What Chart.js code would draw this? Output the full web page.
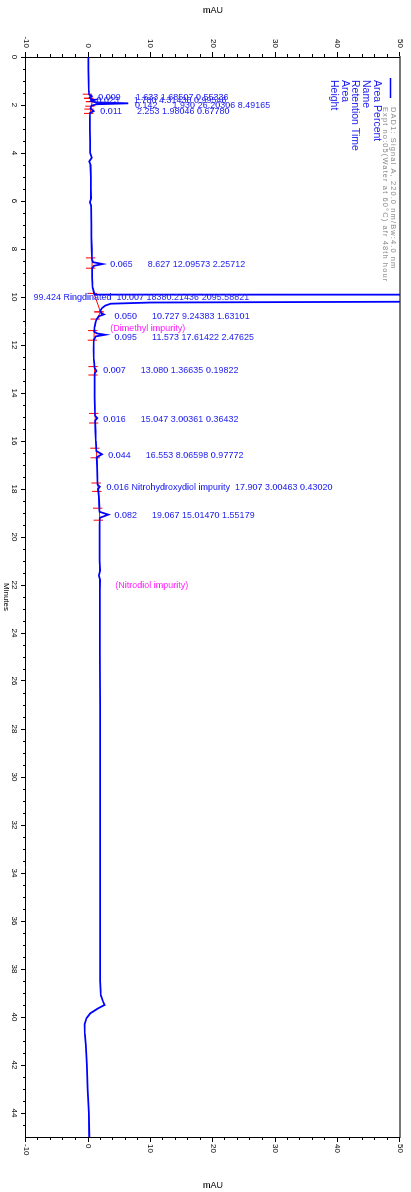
<!DOCTYPE html>
<html><head><meta charset="utf-8">
<script src="https://cdn.jsdelivr.net/npm/chart.js@4/dist/chart.umd.min.js"></script>
<style>
html,body{margin:0;padding:0;background:#fff;overflow:hidden;width:411px;height:1192px}
#wrap{position:absolute;left:0;top:0;width:1192px;height:411px;transform-origin:0 0;transform:translateX(411px) rotate(90deg);}
canvas{display:block}
</style></head>
<body><div id="wrap"><canvas id="c" width="1192" height="411"></canvas></div>
<script>
// ---- data ----
const times = [0,0.5,1.0,1.4,1.55,1.633,1.7,1.75,1.78,1.84,1.89,1.93,1.97,2.03,2.15,2.253,2.33,2.6,3.0,3.5,4.0,4.2,4.35,4.5,5.0,5.5,5.9,6.05,6.2,7.0,7.5,8.0,8.45,8.55,8.627,8.7,8.8,9.2,9.6,9.9,10.007,10.19,10.23,10.28,10.36,10.46,10.58,10.68,10.727,10.80,10.92,11.05,11.25,11.45,11.52,11.573,11.64,11.78,12.2,12.6,12.95,13.08,13.2,13.6,14.2,14.6,14.95,15.047,15.15,15.6,16.0,16.42,16.553,16.68,17.1,17.5,17.82,17.907,18.0,18.3,18.7,18.95,19.067,19.2,19.5,20.0,21.0,21.4,21.6,21.8,22.2,23.0,25.0,27.0,29.0,31.0,33.0,35.0,37.0,38.5,39.1,39.35,39.5,39.65,39.85,40.05,40.3,40.7,41.2,42.0,43.0,44.0,45.0];
const signal = [0.00,0.02,0.05,0.08,0.12,0.55,0.25,0.45,1.1,0.5,1.2,6.4,1.3,0.5,0.35,0.85,0.3,0.25,0.25,0.3,0.3,0.55,0.15,0.35,0.4,0.4,0.45,0.25,0.45,0.5,0.5,0.55,0.6,0.75,2.3,0.9,0.6,0.6,0.7,1.0,2095.6,60,10,3.6,2.7,2.2,1.9,2.1,2.5,1.7,1.35,1.15,1.0,0.95,1.4,2.7,1.2,0.9,0.85,0.9,1.0,1.3,1.0,1.0,1.0,1.05,1.1,1.45,1.1,1.15,1.2,1.3,2.2,1.35,1.4,1.45,1.5,1.85,1.55,1.7,1.75,1.8,3.2,1.85,1.8,1.8,1.8,1.9,1.7,1.9,1.85,1.85,1.85,1.9,1.9,1.9,1.9,1.9,1.9,1.9,2.0,2.35,2.6,1.5,0.3,-0.3,-0.6,-0.55,-0.4,-0.25,-0.1,0.1,0.15];

// integration events (peak start / end, baseline values)
const peakStart = [1.55,1.72,1.86,2.17,8.37,9.85,10.62,11.40,12.90,14.85,16.30,17.75,18.80];
const peakEnd   = [1.72,1.86,2.05,2.35,8.80,10.62,10.92,11.80,13.25,15.25,16.70,18.10,19.30];
const baseStart = [0.10,0.30,0.60,0.35,0.60,0.90,1.95,0.95,1.00,1.10,1.30,1.50,1.75];
const baseEnd   = [0.30,0.60,0.50,0.30,0.60,1.95,1.35,0.90,1.00,1.10,1.35,1.60,1.85];

// peak table
const areaPercent = ['0.009','0.023','0.142','0.011','0.065','99.424','0.050','0.095','0.007','0.016','0.044','0.016','0.082'];
const peakNames   = ['','','','','','Ringdinated','','','','','','Nitrohydroxydiol impurity',''];
const retTimes    = ['1.633','1.780','1.930','2.253','8.627','10.007','10.727','11.573','13.080','15.047','16.553','17.907','19.067'];
const areas       = ['1.68507','4.31436','26.20306','1.98046','12.09573','18380.21436','9.24383','17.61422','1.36635','3.00361','8.06598','3.00463','15.01470'];
const heights     = ['0.55336','0.99546','8.49165','0.67780','2.25712','2095.58821','1.63101','2.47625','0.19822','0.36432','0.97772','0.43020','1.55179'];
const compoundNotes = ['(Dimethyl impurity)','(Nitrodiol impurity)'];

// axis ticks
const timeTicks = [0,2,4,6,8,10,12,14,16,18,20,22,24,26,28,30,32,34,36,38,40,42,44];
const mauTicks  = [-10,0,10,20,30,40,50];

// ---- placement of annotation text (layout, not data) ----
const labelAnchorT = [1.67,1.83,2.04,2.29,8.63,10.04,10.83,11.67,13.08,15.10,16.60,17.93,19.10];
const labelAnchorY = [1.6,1.3,7.5,1.9,3.5,-8.8,4.2,4.2,2.4,2.4,3.2,2.9,4.2];
const noteAnchorT = [11.33,22.04];
const noteAnchorY = [3.5,4.3];

const FONT = '"Liberation Sans", Arial, sans-serif';
Chart.defaults.font.family = FONT;

const tracePts = times.map((t,i)=>({x:t,y:signal[i]}));
const redPts = [];
peakStart.forEach((s,i)=>{
  const e = peakEnd[i], bs = baseStart[i], be = baseEnd[i];
  redPts.push({x:s,y:bs-1.0},{x:s,y:bs+0.5},{x:s,y:null});
  redPts.push({x:s,y:bs},{x:e,y:be},{x:e,y:null});
  redPts.push({x:e,y:be-1.0},{x:e,y:be+0.5},{x:e,y:null});
});

const overlay = {
  id:'overlay',
  afterDatasetsDraw(chart){
    const {ctx, scales:{x,y}} = chart;
    ctx.save();
    ctx.textAlign='left'; ctx.textBaseline='middle';
    ctx.font = '9px '+FONT;
    ctx.fillStyle = '#2121f0';
    retTimes.forEach((rt,i)=>{
      const txt = peakNames[i] ? `${areaPercent[i]} ${peakNames[i]}  ${rt} ${areas[i]} ${heights[i]}`
                               : `${areaPercent[i]}      ${rt} ${areas[i]} ${heights[i]}`;
      const px = x.getPixelForValue(labelAnchorT[i]);
      const py = y.getPixelForValue(labelAnchorY[i]);
      ctx.save(); ctx.translate(px,py); ctx.rotate(-Math.PI/2); ctx.fillText(txt,0,0); ctx.restore();
    });
    ctx.fillStyle = '#ff22ff';
    compoundNotes.forEach((n,i)=>{
      const px = x.getPixelForValue(noteAnchorT[i]);
      const py = y.getPixelForValue(noteAnchorY[i]);
      ctx.save(); ctx.translate(px,py); ctx.rotate(-Math.PI/2); ctx.fillText(n,0,0); ctx.restore();
    });
    ctx.restore();
  },
  afterDraw(chart){
    const {ctx, chartArea:a, scales:{x,y}} = chart;
    ctx.save();
    ctx.strokeStyle='#000'; ctx.lineWidth=1;
    ctx.beginPath();
    for(let t=0.5;t<45;t+=0.5){
      if(timeTicks.includes(t)) continue;
      const px=Math.round(x.getPixelForValue(t))+0.5;
      ctx.moveTo(px,a.bottom); ctx.lineTo(px,a.bottom+3);
    }
    for(let v=-8;v<50;v+=2){
      if(mauTicks.includes(v)) continue;
      const py=Math.round(y.getPixelForValue(v))+0.5;
      ctx.moveTo(a.left-3,py); ctx.lineTo(a.left,py);
      ctx.moveTo(a.right,py); ctx.lineTo(a.right+3,py);
    }
    ctx.stroke();
    // right axis title
    ctx.fillStyle='#000'; ctx.font='9px '+FONT; ctx.textAlign='center'; ctx.textBaseline='middle';
    ctx.save(); ctx.translate(1186,(a.top+a.bottom)/2); ctx.rotate(-Math.PI/2); ctx.fillText('mAU',0,0); ctx.restore();
    // legend block
    ctx.strokeStyle='#0000ff'; ctx.lineWidth=1.5;
    ctx.beginPath(); ctx.moveTo(78,20.5); ctx.lineTo(98,20.5); ctx.stroke();
    ctx.textAlign='left';
    ctx.fillStyle='#888'; ctx.font='7.5px '+FONT;
    try{ctx.letterSpacing='1.1px';}catch(e){}
    ctx.fillText('DAD1: Signal A, 220.0 nm/Bw:4.0 nm',107,18);
    ctx.fillText('Expt no:05(Water at 60°C) afr 48th hour',107,25.5);
    try{ctx.letterSpacing='0px';}catch(e){}
    ctx.fillStyle='#2121f0'; ctx.font='10.5px '+FONT;
    ['Area Percent','Name','Retention Time','Area','Height'].forEach((s,i)=>{
      ctx.fillText(s,80,34.5+i*10.7);
    });
    ctx.restore();
  }
};

const tickFont = {size:8, family:FONT};
new Chart(document.getElementById('c'), {
  type:'scatter',
  data:{datasets:[
    {data:redPts, showLine:true, borderColor:'#ff0000', borderWidth:1, pointRadius:0, spanGaps:false, order:2},
    {data:tracePts, showLine:true, borderColor:'#0000ff', borderWidth:1.8, pointRadius:0, tension:0, order:1}
  ]},
  options:{
    responsive:false, animation:false, devicePixelRatio:1,
    layout:{padding:0},
    plugins:{legend:{display:false}, tooltip:{enabled:false}},
    scales:{
      x:{type:'linear', position:'bottom', min:0, max:45,
        afterBuildTicks(s){ s.ticks = timeTicks.map(v=>({value:v})); },
        ticks:{autoSkip:false, maxRotation:0, minRotation:0, font:tickFont, color:'#000', padding:2},
        grid:{drawOnChartArea:false, drawTicks:true, tickLength:5, color:'#000'},
        border:{display:true, color:'#000', width:1},
        title:{display:true, text:'Minutes', font:{size:8,family:FONT}, color:'#000', padding:{top:0,bottom:1}},
        afterFit(s){ s.height = 26; }
      },
      xt:{type:'linear', position:'top', min:0, max:45,
        ticks:{display:false}, grid:{drawOnChartArea:false, drawTicks:false},
        border:{display:true, color:'#777', width:2},
        afterFit(s){ s.height = 11; }
      },
      y:{type:'linear', position:'left', min:-10, max:50,
        afterBuildTicks(s){ s.ticks = mauTicks.map(v=>({value:v})); },
        ticks:{font:tickFont, color:'#000', padding:4},
        grid:{drawOnChartArea:false, drawTicks:true, tickLength:5, color:'#000'},
        border:{display:true, color:'#000', width:1},
        title:{display:true, text:'mAU', font:{size:9,family:FONT}, color:'#000', padding:{top:5,bottom:0}},
        afterFit(s){ s.width = 57; }
      },
      y2:{type:'linear', position:'right', min:-10, max:50,
        afterBuildTicks(s){ s.ticks = mauTicks.map(v=>({value:v})); },
        ticks:{font:tickFont, color:'#000', padding:2},
        grid:{drawOnChartArea:false, drawTicks:true, tickLength:5, color:'#000'},
        border:{display:true, color:'#000', width:1},
        afterFit(s){ s.width = 55; }
      }
    }
  },
  plugins:[overlay]
});
</script>
</body></html>
